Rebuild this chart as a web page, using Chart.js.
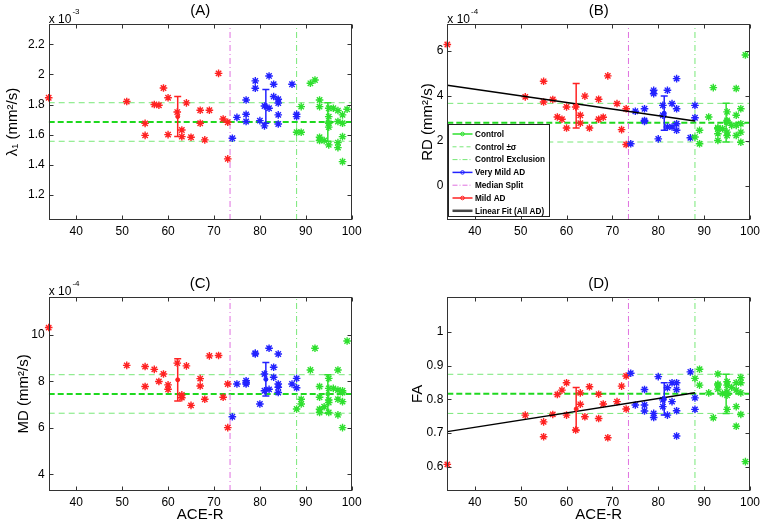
<!DOCTYPE html>
<html>
<head>
<meta charset="utf-8">
<script src="https://cdn.jsdelivr.net/npm/chart.js@4.4.1/dist/chart.umd.min.js"></script>
<style>
  html, body { margin: 0; padding: 0; background: #fff; }
  #wrap { position: relative; width: 764px; height: 527px; overflow: hidden; }
  canvas { position: absolute; }
</style>
</head>
<body>
<div id="wrap">
  <canvas id="pA" width="382" height="260" style="left:0;top:0"></canvas>
  <canvas id="pB" width="382" height="260" style="left:382px;top:0"></canvas>
  <canvas id="pC" width="382" height="267" style="left:0;top:260px"></canvas>
  <canvas id="pD" width="382" height="267" style="left:382px;top:260px"></canvas>
</div>
<script>
// ACE-R axis
const xMin = 34
const xMax = 100
const xTicks = [40, 50, 60, 70, 80, 90, 100]
const medianSplit = 73.5
const controlCut = 88

// ACE-R score of every subject, per group
const mildX = [34, 51, 55, 55, 57, 58, 59, 60, 60, 62, 63, 63, 64, 65, 67, 67, 68, 69, 71, 72, 73, 73]
const veryMildX = [74, 75, 77, 77, 77, 79, 79, 80, 81, 81, 82, 82, 83, 83, 84, 84, 84, 84, 87, 88, 88]
const controlX = [88, 89, 89, 91, 92, 93, 93, 93, 93, 94, 95, 95, 95, 95, 95, 96, 97, 97, 97, 97, 98, 98, 98, 98, 99]
// group mean ACE-R: mild, very mild, control
const groupX = [62.1, 81.3, 94.8]
const fitX = [34, 88]

// (A) lambda1, x 10^-3
const aRange = [1.033, 2.335]
const aYTicks = [1.2, 1.4, 1.6, 1.8, 2, 2.2]
const aMild = [1.845, 1.82, 1.675, 1.595, 1.80, 1.795, 1.91, 1.845, 1.60, 1.75, 1.631, 1.587, 1.811, 1.583, 1.762, 1.676, 1.565, 1.762, 2.007, 1.704, 1.682, 1.439]
const aVeryMild = [1.576, 1.715, 1.83, 1.735, 1.687, 1.957, 1.908, 1.693, 1.658, 1.79, 1.99, 1.775, 1.935, 1.853, 1.835, 1.81, 1.731, 1.671, 1.935, 1.735, 1.72]
const aControl = [1.616, 1.786, 1.616, 1.941, 1.963, 1.83, 1.786, 1.583, 1.561, 1.561, 1.775, 1.72, 1.676, 1.65, 1.532, 1.775, 1.76, 1.687, 1.547, 1.514, 1.731, 1.676, 1.587, 1.421, 1.769]
const aMean = [1.72, 1.79, 1.684]
const aLow = [1.587, 1.676, 1.556]
const aHigh = [1.853, 1.90, 1.812]

// (B) RD, x 10^-4
const bRange = [-1.53, 7.19]
const bYTicks = [0, 2, 4, 6]
const bMild = [6.28, 3.95, 4.64, 3.72, 3.83, 3.05, 2.95, 3.50, 2.56, 3.50, 3.13, 2.78, 3.98, 2.56, 3.84, 2.95, 3.04, 4.88, 3.65, 2.49, 3.42, 1.83]
const bVeryMild = [1.86, 3.31, 3.42, 2.86, 2.90, 4.24, 4.09, 2.08, 3.57, 3.13, 4.24, 2.61, 3.65, 2.61, 4.76, 3.42, 2.75, 2.46, 2.13, 3.57, 3.02]
const bControl = [2.16, 2.46, 1.86, 3.05, 4.36, 2.53, 2.31, 2.01, 2.58, 2.53, 3.28, 2.83, 2.38, 2.23, 2.90, 2.68, 4.32, 3.13, 2.68, 2.23, 3.42, 2.75, 2.38, 1.93, 5.81]
const bMean = [3.55, 3.22, 2.80]
const bLow = [2.56, 2.46, 1.94]
const bHigh = [4.54, 3.99, 3.66]
const bFit = [4.47, 2.87]

// (C) MD, x 10^-4
const cRange = [3.28, 11.65]
const cYTicks = [4, 6, 8, 10]
const cMild = [10.32, 8.69, 8.64, 7.78, 8.52, 8.0, 8.32, 7.85, 7.66, 8.79, 7.42, 7.30, 8.67, 6.97, 8.12, 7.80, 7.23, 9.10, 9.12, 7.32, 7.89, 6.01]
const cVeryMild = [6.48, 7.89, 8.03, 7.89, 7.95, 9.18, 9.22, 7.03, 8.32, 7.60, 9.43, 7.66, 8.61, 8.18, 9.18, 7.89, 7.75, 7.52, 7.89, 8.13, 7.73]
const cControl = [6.81, 7.23, 7.03, 8.49, 9.43, 7.78, 7.32, 6.80, 6.66, 6.91, 8.13, 7.70, 7.20, 7.09, 6.66, 7.70, 8.49, 7.63, 7.23, 6.56, 7.60, 7.52, 7.13, 6.01, 9.74]
const cMean = [8.07, 8.09, 7.46]
const cLow = [7.16, 7.37, 6.63]
const cHigh = [8.98, 8.82, 8.29]

// (D) FA
const dRange = [0.528, 1.104]
const dYTicks = [0.6, 0.7, 0.8, 0.9, 1]
const dMild = [0.607, 0.753, 0.733, 0.689, 0.755, 0.814, 0.827, 0.849, 0.753, 0.709, 0.819, 0.785, 0.748, 0.837, 0.815, 0.743, 0.786, 0.686, 0.793, 0.839, 0.869, 0.771]
const dVeryMild = [0.877, 0.783, 0.829, 0.783, 0.765, 0.758, 0.746, 0.867, 0.798, 0.778, 0.834, 0.753, 0.849, 0.793, 0.849, 0.829, 0.766, 0.691, 0.881, 0.804, 0.770]
const dControl = [0.862, 0.889, 0.842, 0.819, 0.745, 0.875, 0.845, 0.842, 0.830, 0.817, 0.852, 0.842, 0.822, 0.812, 0.770, 0.835, 0.849, 0.827, 0.778, 0.720, 0.864, 0.849, 0.819, 0.755, 0.615]
const dMean = [0.771, 0.801, 0.816]
const dLow = [0.707, 0.753, 0.758]
const dHigh = [0.835, 0.849, 0.874]
const dFit = [0.704, 0.819]

const legendLabels = ['Control', 'Control \u00b1\u03c3', 'Control Exclusion', 'Very Mild AD', 'Median Split', 'Mild AD', 'Linear Fit (All AD)']

const red = '#ff2222'
const blue = '#2222ff'
const green = '#2fe02f'
const sigmaGreen = '#78e878'
const meanGreen = '#1fd81f'
const magenta = '#e070e0'
const font = '"Liberation Sans", Arial, sans-serif'

Chart.defaults.font.family = font
Chart.defaults.color = '#000'

const legendStyles = [
  { c: green, w: 1.5, dash: [], m: true },
  { c: sigmaGreen, w: 1, dash: [4, 3] },
  { c: sigmaGreen, w: 1, dash: [5, 2, 1, 2] },
  { c: blue, w: 1.5, dash: [], m: true },
  { c: magenta, w: 1, dash: [5, 2, 1, 2] },
  { c: red, w: 1.5, dash: [], m: true },
  { c: '#444', w: 2.5, dash: [] }
]

function pts(xs, ys) {
  return xs.map((x, i) => ({ x: x, y: ys[i] }))
}

function scatterSet(xs, ys, color) {
  return { data: pts(xs, ys), showLine: false, pointStyle: 'star', pointRadius: 3.8,
    pointBorderWidth: 1.4, borderColor: color, backgroundColor: color, clip: false }
}

function lineSet(data, color, width, dash) {
  return { data: data, showLine: true, pointRadius: 0, borderColor: color,
    borderWidth: width, borderDash: dash, fill: false }
}

function barSet(x, lo, hi, color) {
  return { data: [{ x: x, y: lo }, { x: x, y: hi }], showLine: true, pointStyle: 'line',
    pointRadius: 3.5, pointBorderWidth: 1.5, borderColor: color, borderWidth: 1.5 }
}

function meanSet(x, y, color) {
  return { data: [{ x: x, y: y }], pointStyle: 'circle', pointRadius: 2,
    borderColor: color, backgroundColor: color, pointBorderWidth: 1 }
}

// box, inward ticks, panel title, exponent and legend
const frame = {
  id: 'frame',
  afterDraw(chart, args, o) {
    const { ctx, chartArea: a, scales } = chart
    const L = Math.round(a.left) + 0.5, R = Math.round(a.right) - 0.5
    const T = Math.round(a.top) + 0.5, B = Math.round(a.bottom) - 0.5
    ctx.save()
    ctx.strokeStyle = '#333'
    ctx.lineWidth = 1
    ctx.setLineDash([])
    ctx.strokeRect(L, T, R - L, B - T)
    ctx.beginPath()
    scales.x.ticks.forEach(t => {
      const px = Math.round(scales.x.getPixelForValue(t.value)) + 0.5
      ctx.moveTo(px, B); ctx.lineTo(px, B - 4)
      ctx.moveTo(px, T); ctx.lineTo(px, T + 4)
    })
    scales.y.ticks.forEach(t => {
      const py = Math.round(scales.y.getPixelForValue(t.value)) + 0.5
      ctx.moveTo(L, py); ctx.lineTo(L + 4, py)
      ctx.moveTo(R, py); ctx.lineTo(R - 4, py)
    })
    ctx.stroke()

    ctx.fillStyle = '#000'
    ctx.font = '15px ' + font
    ctx.textAlign = 'center'
    ctx.textBaseline = 'middle'
    ctx.fillText(o.title, (a.left + a.right) / 2, a.top - 13)

    if (o.exp) {
      ctx.textAlign = 'left'
      ctx.textBaseline = 'alphabetic'
      ctx.font = '12px ' + font
      ctx.fillText('x 10', a.left, a.top - 1.5)
      const w = ctx.measureText('x 10').width
      ctx.font = '8px ' + font
      ctx.fillText(o.exp, a.left + w + 1, a.top - 10.5)
    }

    if (o.legend) {
      const x0 = Math.round(a.left) + 1.5, y0 = Math.round(a.top) + 100.5
      ctx.fillStyle = '#fff'
      ctx.fillRect(x0, y0, 101, 92)
      ctx.strokeStyle = '#222'
      ctx.lineWidth = 1
      ctx.strokeRect(x0, y0, 101, 92)
      ctx.font = 'bold 8.2px ' + font
      ctx.textAlign = 'left'
      ctx.textBaseline = 'middle'
      legendLabels.forEach((lab, i) => {
        const s = legendStyles[i]
        const yy = y0 + 9.5 + i * 12.8
        ctx.strokeStyle = s.c
        ctx.lineWidth = s.w
        ctx.setLineDash(s.dash)
        ctx.beginPath()
        ctx.moveTo(x0 + 4, yy); ctx.lineTo(x0 + 24, yy)
        ctx.stroke()
        ctx.setLineDash([])
        if (s.m) {
          ctx.lineWidth = 1
          ctx.beginPath()
          ctx.arc(x0 + 14, yy, 1.8, 0, Math.PI * 2)
          ctx.stroke()
        }
        ctx.fillStyle = '#000'
        ctx.fillText(lab, x0 + 26.5, yy + 0.5)
      })
    }
    ctx.restore()
  }
}

function makePanel(id, p) {
  const ds = []
  const colors = [red, blue, green]
  for (let g = 0; g < 3; g++) {
    ds.push(meanSet(groupX[g], p.mean[g], colors[g]))
    ds.push(barSet(groupX[g], p.low[g], p.high[g], colors[g]))
  }
  if (p.fit) ds.push(lineSet(pts(fitX, p.fit), '#000', 1.5, []))
  ds.push(scatterSet(controlX, p.control, green))
  ds.push(scatterSet(veryMildX, p.veryMild, blue))
  ds.push(scatterSet(mildX, p.mild, red))
  ds.push(lineSet([{ x: medianSplit, y: p.range[0] }, { x: medianSplit, y: p.range[1] }], magenta, 1, [6, 3, 1, 3]))
  ds.push(lineSet([{ x: controlCut, y: p.range[0] }, { x: controlCut, y: p.range[1] }], sigmaGreen, 1, [6, 3, 1, 3]))
  ds.push(lineSet([{ x: xMin, y: p.mean[2] }, { x: xMax, y: p.mean[2] }], meanGreen, 2, [6, 3]))
  ds.push(lineSet([{ x: xMin, y: p.high[2] }, { x: xMax, y: p.high[2] }], sigmaGreen, 1, [6, 4]))
  ds.push(lineSet([{ x: xMin, y: p.low[2] }, { x: xMax, y: p.low[2] }], sigmaGreen, 1, [6, 4]))

  new Chart(document.getElementById(id), {
    type: 'scatter',
    data: { datasets: ds },
    plugins: [frame],
    options: {
      animation: false,
      responsive: false,
      events: [],
      layout: { padding: p.pad },
      plugins: {
        legend: { display: false },
        tooltip: { enabled: false },
        frame: { title: p.title, exp: p.exp, legend: p.legend }
      },
      scales: {
        x: {
          type: 'linear', min: xMin, max: xMax,
          afterBuildTicks: s => { s.ticks = xTicks.map(v => ({ value: v })) },
          afterFit: s => { s.height = p.xHeight },
          grid: { display: false, drawTicks: false },
          border: { display: false },
          ticks: { font: { size: 12 }, padding: 4, autoSkip: false, maxRotation: 0 },
          title: { display: p.xTitle, text: 'ACE-R', font: { size: 15 }, padding: { top: 0, bottom: 3 } }
        },
        y: {
          type: 'linear', min: p.range[0], max: p.range[1],
          afterBuildTicks: s => { s.ticks = p.ticks.map(v => ({ value: v })) },
          afterFit: s => { s.width = p.yWidth },
          grid: { display: false, drawTicks: false },
          border: { display: false },
          ticks: { font: { size: 12 }, padding: 4, callback: v => String(+v.toFixed(2)) },
          title: { display: true, text: p.yTitle, font: { size: 15 }, padding: { top: 4, bottom: 0 } }
        }
      }
    }
  })
}

makePanel('pA', {
  title: '(A)', yTitle: '\u03bb\u2081 (mm\u00b2/s)', exp: '-3', legend: false, xTitle: false,
  range: aRange, ticks: aYTicks, mild: aMild, veryMild: aVeryMild, control: aControl,
  mean: aMean, low: aLow, high: aHigh, fit: null,
  pad: { left: 0, top: 24, right: 30.3, bottom: 0 }, yWidth: 48.7, xHeight: 40
})
makePanel('pB', {
  title: '(B)', yTitle: 'RD (mm\u00b2/s)', exp: '-4', legend: true, xTitle: false,
  range: bRange, ticks: bYTicks, mild: bMild, veryMild: bVeryMild, control: bControl,
  mean: bMean, low: bLow, high: bHigh, fit: bFit,
  pad: { left: 33, top: 24, right: 12.7, bottom: 0 }, yWidth: 32.3, xHeight: 40
})
makePanel('pC', {
  title: '(C)', yTitle: 'MD (mm\u00b2/s)', exp: '-4', legend: false, xTitle: true,
  range: cRange, ticks: cYTicks, mild: cMild, veryMild: cVeryMild, control: cControl,
  mean: cMean, low: cLow, high: cHigh, fit: null,
  pad: { left: 11, top: 36.7, right: 30.3, bottom: 0 }, yWidth: 37.7, xHeight: 36
})
makePanel('pD', {
  title: '(D)', yTitle: 'FA', exp: null, legend: false, xTitle: true,
  range: dRange, ticks: dYTicks, mild: dMild, veryMild: dVeryMild, control: dControl,
  mean: dMean, low: dLow, high: dHigh, fit: dFit,
  pad: { left: 22.5, top: 36.7, right: 12.7, bottom: 0 }, yWidth: 42.8, xHeight: 36
})
</script>
</body>
</html>
